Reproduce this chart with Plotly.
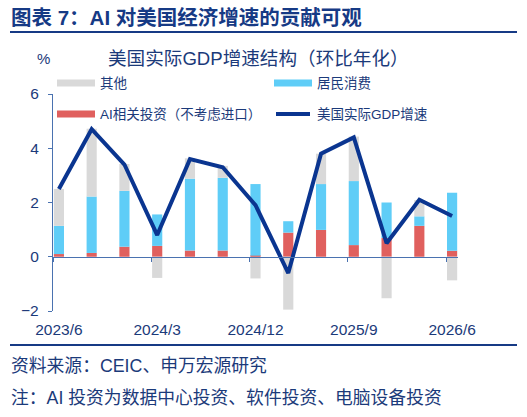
import plotly.graph_objects as go

# ---------------- data ----------------
quarters = ["2023/6", "2023/9", "2023/12", "2024/3", "2024/6", "2024/9", "2024/12",
            "2025/3", "2025/6", "2025/9", "2025/12", "2026/3", "2026/6"]
ai_invest = [0.10, 0.14, 0.37, 0.40, 0.23, 0.23, 0.04, 0.89, 0.99, 0.43, 0.69, 1.14, 0.22]
consumption = [1.04, 2.08, 2.06, 1.16, 2.65, 2.68, 2.64, 0.42, 1.69, 2.36, 1.31, 0.35, 2.14]
other = [1.36, 2.50, 0.99, -0.78, 0.75, 0.44, -0.80, -1.95, 1.12, 1.64, -1.53, 0.60, -0.87]
gdp = [2.5, 4.7, 3.4, 0.8, 3.6, 3.3, 1.9, -0.6, 3.8, 4.4, 0.5, 2.1, 1.5]
tick_labels = ["2023/6", "2024/3", "2024/12", "2025/9", "2026/6"]
y_ticks = [-2, 0, 2, 4, 6]

names = ["其他", "居民消费", "AI相关投资（不考虑进口）", "美国实际GDP增速"]

# ---------------- style ----------------
W, H = 527, 417
L, T, R, B = 53, 94, 458, 311
PW, PH = R - L, B - T
NAVY = "#1b3a7a"
AXIS = "#4a72b0"
C_GRAY = "#d9d9d9"
C_BLUE = "#5fcdf7"
C_RED = "#e0605e"
C_LINE = "#0a3590"
FONT = "Liberation Sans, Noto Sans CJK SC, sans-serif"


def px(x):
    return (x - L) / PW


def py(y):
    return 1 - (y - T) / PH


xi = list(range(len(quarters)))
bw = 0.31

fig = go.Figure()
fig.add_trace(go.Bar(x=xi, y=ai_invest, name=names[2], marker_color=C_RED, width=bw,
                     marker_line_width=0, showlegend=False))
fig.add_trace(go.Bar(x=xi, y=consumption, name=names[1], marker_color=C_BLUE, width=bw,
                     marker_line_width=0, showlegend=False))
fig.add_trace(go.Bar(x=xi, y=other, name=names[0], marker_color=C_GRAY, width=bw,
                     marker_line_width=0, showlegend=False))
fig.add_trace(go.Scatter(x=xi, y=gdp, name=names[3], mode="lines",
                         line=dict(color=C_LINE, width=4), showlegend=False))
# dummy trace so the zero-line axis is drawn
fig.add_trace(go.Scatter(x=[0], y=[0], xaxis="x2", mode="markers",
                         marker=dict(opacity=0), showlegend=False, hoverinfo="skip"))

xr = [-0.18, len(quarters) - 1 + 0.18]
tick_pos = [quarters.index(t) for t in tick_labels]

fig.update_layout(
    width=W, height=H,
    margin=dict(l=L, r=W - R, t=T, b=H - B, pad=0),
    paper_bgcolor="white", plot_bgcolor="white",
    barmode="relative",
    font=dict(family=FONT, color=NAVY),
    xaxis=dict(range=xr, tickvals=tick_pos, ticktext=tick_labels,
               showline=False, showgrid=False, zeroline=False, ticks="",
               tickfont=dict(size=15.5, color=NAVY), ticklabelstandoff=7),
    xaxis2=dict(range=xr, overlaying="x", anchor="free", position=0.25,
                showline=True, linecolor=AXIS, linewidth=1.3,
                tickvals=[p - 0.18 for p in tick_pos], ticks="outside", ticklen=4,
                tickcolor=AXIS, showticklabels=False, showgrid=False, zeroline=False),
    yaxis=dict(range=[-2, 6], tickvals=y_ticks, showline=True, linecolor=AXIS,
               linewidth=1.3, ticks="outside", ticklen=4, tickcolor=AXIS,
               showgrid=False, zeroline=False, tickfont=dict(size=15.5, color=NAVY),
               ticklabelstandoff=6),
)

shapes = []
annos = []
# top title + rule
annos.append(dict(text="<b>图表 7：AI 对美国经济增速的贡献可观</b>", x=px(9), y=py(18),
                  xref="paper", yref="paper", xanchor="left", yanchor="middle",
                  showarrow=False, font=dict(size=20.5, color="#163a85")))
shapes.append(dict(type="line", xref="paper", yref="paper", x0=px(10), x1=px(517),
                   y0=py(32), y1=py(32), line=dict(color="#163a85", width=2)))
# "%" and subtitle
annos.append(dict(text="%", x=px(43), y=py(58), xref="paper", yref="paper",
                  xanchor="center", yanchor="middle", showarrow=False,
                  font=dict(size=15, color=NAVY)))
annos.append(dict(text="美国实际GDP增速结构（环比年化）", x=px(258), y=py(58),
                  xref="paper", yref="paper", xanchor="center", yanchor="middle",
                  showarrow=False, font=dict(size=18.6, color=NAVY)))
# custom legend
leg = [(names[0], C_GRAY, "bar", 57, 83), (names[1], C_BLUE, "bar", 274, 83),
       (names[2], C_RED, "bar", 57, 114), (names[3], C_LINE, "line", 274, 114)]
for name, col, kind, x0, yc in leg:
    if kind == "bar":
        shapes.append(dict(type="rect", xref="paper", yref="paper", x0=px(x0), x1=px(x0 + 38),
                           y0=py(yc - 3.5), y1=py(yc + 3.5), fillcolor=col, line=dict(width=0)))
    else:
        shapes.append(dict(type="line", xref="paper", yref="paper", x0=px(x0 + 2), x1=px(x0 + 36),
                           y0=py(yc), y1=py(yc), line=dict(color=col, width=4)))
    annos.append(dict(text=name, x=px(x0 + 41), y=py(yc + 0.5), xref="paper", yref="paper",
                      xanchor="left", yanchor="middle", showarrow=False,
                      font=dict(size=13.5, color=NAVY)))
# bottom rule + notes
shapes.append(dict(type="line", xref="paper", yref="paper", x0=px(10), x1=px(517),
                   y0=py(345), y1=py(345), line=dict(color="#163a85", width=2)))
annos.append(dict(text="资料来源：CEIC、申万宏源研究", x=px(9), y=py(366),
                  xref="paper", yref="paper", xanchor="left", yanchor="middle",
                  showarrow=False, font=dict(size=17.8, color=NAVY)))
annos.append(dict(text="注：AI 投资为数据中心投资、软件投资、电脑设备投资", x=px(9), y=py(398),
                  xref="paper", yref="paper", xanchor="left", yanchor="middle",
                  showarrow=False, font=dict(size=17.8, color=NAVY)))

fig.update_layout(shapes=shapes, annotations=annos)
fig.write_html("out.html", config={"displayModeBar": False},
               post_script="document.body.style.margin='0';document.body.style.overflow='hidden';")
